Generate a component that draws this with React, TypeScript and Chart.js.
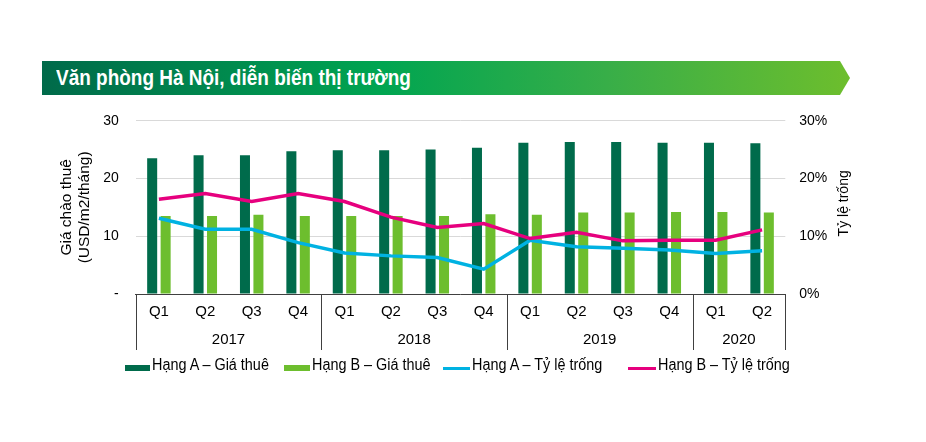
import React, { useEffect, useRef } from 'react';
import { Chart, registerables } from 'chart.js';

Chart.register(...registerables);

// ---- data ----
const quarters = ['Q1', 'Q2', 'Q3', 'Q4', 'Q1', 'Q2', 'Q3', 'Q4', 'Q1', 'Q2', 'Q3', 'Q4', 'Q1', 'Q2'];
const years = ['2017', '2018', '2019', '2020'];
const quartersPerYear = [4, 4, 4, 2];
const gradeARent = [23.5, 24.0, 24.0, 24.7, 24.9, 24.9, 25.0, 25.3, 26.2, 26.3, 26.3, 26.2, 26.2, 26.1];
const gradeBRent = [13.5, 13.5, 13.7, 13.5, 13.5, 13.5, 13.5, 13.8, 13.7, 14.1, 14.1, 14.2, 14.2, 14.1];
const gradeAVacancy = [13.1, 11.2, 11.2, 8.9, 7.1, 6.6, 6.3, 4.3, 9.3, 8.2, 7.9, 7.6, 7.0, 7.5];
const gradeBVacancy = [16.4, 17.4, 16.0, 17.4, 16.0, 13.3, 11.5, 12.2, 9.6, 10.7, 9.2, 9.3, 9.3, 11.1];
const seriesNames = ['Hạng A – Giá thuê', 'Hạng B – Giá thuê', 'Hạng A – Tỷ lệ trống', 'Hạng B – Tỷ lệ trống'];
const seriesColors = ['#006B4B', '#6DBE2E', '#00B2E2', '#E6007E'];
const title = 'Văn phòng Hà Nội, diễn biến thị trường';
const leftAxisTitle = ['Giá chào thuê', '(USD/m2/tháng)'];
const rightAxisTitle = 'Tỷ lệ trống';

const FONT = '"Liberation Sans", Arial, sans-serif';

const decorPlugin = {
  id: 'decor',
  afterDraw(chart: any) {
    const { ctx, chartArea, scales } = chart;
    const x = scales.x;
    ctx.save();
    // group separators
    ctx.strokeStyle = '#404040';
    ctx.lineWidth = 1;
    const bounds: number[] = [Math.round(x.left) + 0.5];
    let idx = 0;
    const centers: number[] = [];
    quartersPerYear.forEach((n) => {
      const start = idx;
      idx += n;
      centers.push((x.getPixelForValue(start) + x.getPixelForValue(idx - 1)) / 2);
      const b = idx < quarters.length ? (x.getPixelForValue(idx - 1) + x.getPixelForValue(idx)) / 2 : x.right;
      bounds.push(Math.round(b) + 0.5);
    });
    const yTop = chartArea.bottom;
    const yBot = chartArea.bottom + 56;
    bounds.forEach((bx) => {
      ctx.beginPath();
      ctx.moveTo(bx, yTop);
      ctx.lineTo(bx, yBot);
      ctx.stroke();
    });
    // year labels
    ctx.fillStyle = '#000';
    ctx.font = `15px ${FONT}`;
    ctx.textAlign = 'center';
    ctx.textBaseline = 'middle';
    years.forEach((yr, i) => ctx.fillText(yr, centers[i], chartArea.bottom + 45.5));
    // left axis title
    ctx.font = `15.5px ${FONT}`;
    const cy = (chartArea.top + chartArea.bottom) / 2;
    ctx.save();
    ctx.translate(58.7, cy);
    ctx.rotate(-Math.PI / 2);
    ctx.fillText(leftAxisTitle[0], 0, 0);
    ctx.restore();
    ctx.save();
    ctx.translate(77, cy);
    ctx.rotate(-Math.PI / 2);
    ctx.fillText(leftAxisTitle[1], 0, 0);
    ctx.restore();
    // right axis title (bottom-to-top)
    ctx.font = `14px ${FONT}`;
    ctx.save();
    ctx.translate(836, cy - 4);
    ctx.rotate(-Math.PI / 2);
    ctx.fillText(rightAxisTitle, 0, 0);
    ctx.restore();
    ctx.restore();
  },
};

function ChartCanvas() {
  const ref = useRef<HTMLCanvasElement | null>(null);
  useEffect(() => {
    if (!ref.current) return;
    const chart = new Chart(ref.current, {
      type: 'bar',
      data: {
        labels: quarters,
        datasets: [
          {
            type: 'line',
            label: seriesNames[2],
            data: gradeAVacancy,
            yAxisID: 'y1',
            borderColor: seriesColors[2],
            backgroundColor: seriesColors[2],
            borderWidth: 3.5,
            pointRadius: 0,
            tension: 0,
            order: 1,
          } as any,
          {
            type: 'line',
            label: seriesNames[3],
            data: gradeBVacancy,
            yAxisID: 'y1',
            borderColor: seriesColors[3],
            backgroundColor: seriesColors[3],
            borderWidth: 3.5,
            pointRadius: 0,
            tension: 0,
            order: 0,
          } as any,
          {
            type: 'bar',
            label: seriesNames[0],
            data: gradeARent,
            yAxisID: 'y',
            backgroundColor: seriesColors[0],
            categoryPercentage: 0.58,
            barPercentage: 0.745,
            order: 3,
          },
          {
            type: 'bar',
            label: seriesNames[1],
            data: gradeBRent,
            yAxisID: 'y',
            backgroundColor: seriesColors[1],
            categoryPercentage: 0.58,
            barPercentage: 0.745,
            order: 3,
          },
        ],
      },
      options: {
        responsive: false,
        animation: false,
        layout: { padding: { top: 112.7, left: 0, right: 0, bottom: 0 } },
        plugins: { legend: { display: false }, tooltip: { enabled: false } },
        scales: {
          x: {
            grid: { display: false, drawTicks: false },
            border: { display: true, color: '#404040', width: 1 },
            ticks: { color: '#000', font: { family: FONT, size: 15 }, padding: 9, maxRotation: 0, autoSkip: false },
            afterFit: (s: any) => { s.height = 140; },
          },
          y: {
            position: 'left',
            min: 0,
            max: 30,
            grid: { color: '#D9D9D9', lineWidth: 1, drawTicks: false },
            border: { display: false },
            ticks: {
              stepSize: 10,
              color: '#000',
              font: { family: FONT, size: 14 },
              padding: 17,
              callback: (v: any) => (v === 0 ? '-' : String(v)),
            },
            afterFit: (s: any) => { s.width = 127.7; },
          },
          y1: {
            position: 'right',
            min: 0,
            max: 30,
            grid: { display: false, drawTicks: false },
            border: { display: false },
            ticks: {
              stepSize: 10,
              color: '#000',
              font: { family: FONT, size: 14 },
              padding: 14,
              callback: (v: any) => `${v}%`,
            },
            afterFit: (s: any) => { s.width = 132.7; },
          },
        },
      },
      plugins: [decorPlugin],
    });
    return () => chart.destroy();
  }, []);
  return <canvas ref={ref} width={910} height={426} style={{ position: 'absolute', left: 0, top: 0 }} />;
}

const legendLayout = [
  { left: 117, swW: 25, textLeft: 143.7, kind: 'bar' },
  { left: 276.3, swW: 26, textLeft: 303.7, kind: 'bar' },
  { left: 434.7, swW: 27, textLeft: 463.7, kind: 'line' },
  { left: 620, swW: 28, textLeft: 650, kind: 'line' },
];

export default function App() {
  return (
    <div style={{ position: 'relative', width: 910, height: 426 }}>
      <div
        style={{
          position: 'absolute',
          left: 34,
          top: 53,
          width: 808,
          height: 34,
          background: 'linear-gradient(90deg, #006A4A 0%, #00A551 42%, #38AE48 70%, #6DBE2D 100%)',
          clipPath: 'polygon(0 0, 798px 0, 808px 50%, 798px 100%, 0 100%)',
        }}
      >
        <span
          style={{
            position: 'absolute',
            left: 14,
            top: 0,
            lineHeight: '34px',
            color: '#fff',
            fontWeight: 'bold',
            fontSize: 22.5,
            fontFamily: FONT,
            whiteSpace: 'nowrap',
            transform: 'scaleX(0.843)',
            transformOrigin: 'left center',
          }}
        >
          {title}
        </span>
      </div>
      <ChartCanvas />
      {legendLayout.map((it, i) => (
        <React.Fragment key={i}>
          <div
            style={{
              position: 'absolute',
              left: it.left,
              top: it.kind === 'bar' ? 357.3 : 359,
              width: it.swW,
              height: it.kind === 'bar' ? 6 : 3,
              background: seriesColors[i],
            }}
          />
          <span
            style={{
              position: 'absolute',
              left: it.textLeft,
              top: 347.5,
              lineHeight: '18px',
              fontSize: 16,
              fontFamily: FONT,
              color: '#000',
              whiteSpace: 'nowrap',
              transform: 'scaleX(0.9)',
              transformOrigin: 'left center',
            }}
          >
            {seriesNames[i]}
          </span>
        </React.Fragment>
      ))}
    </div>
  );
}
